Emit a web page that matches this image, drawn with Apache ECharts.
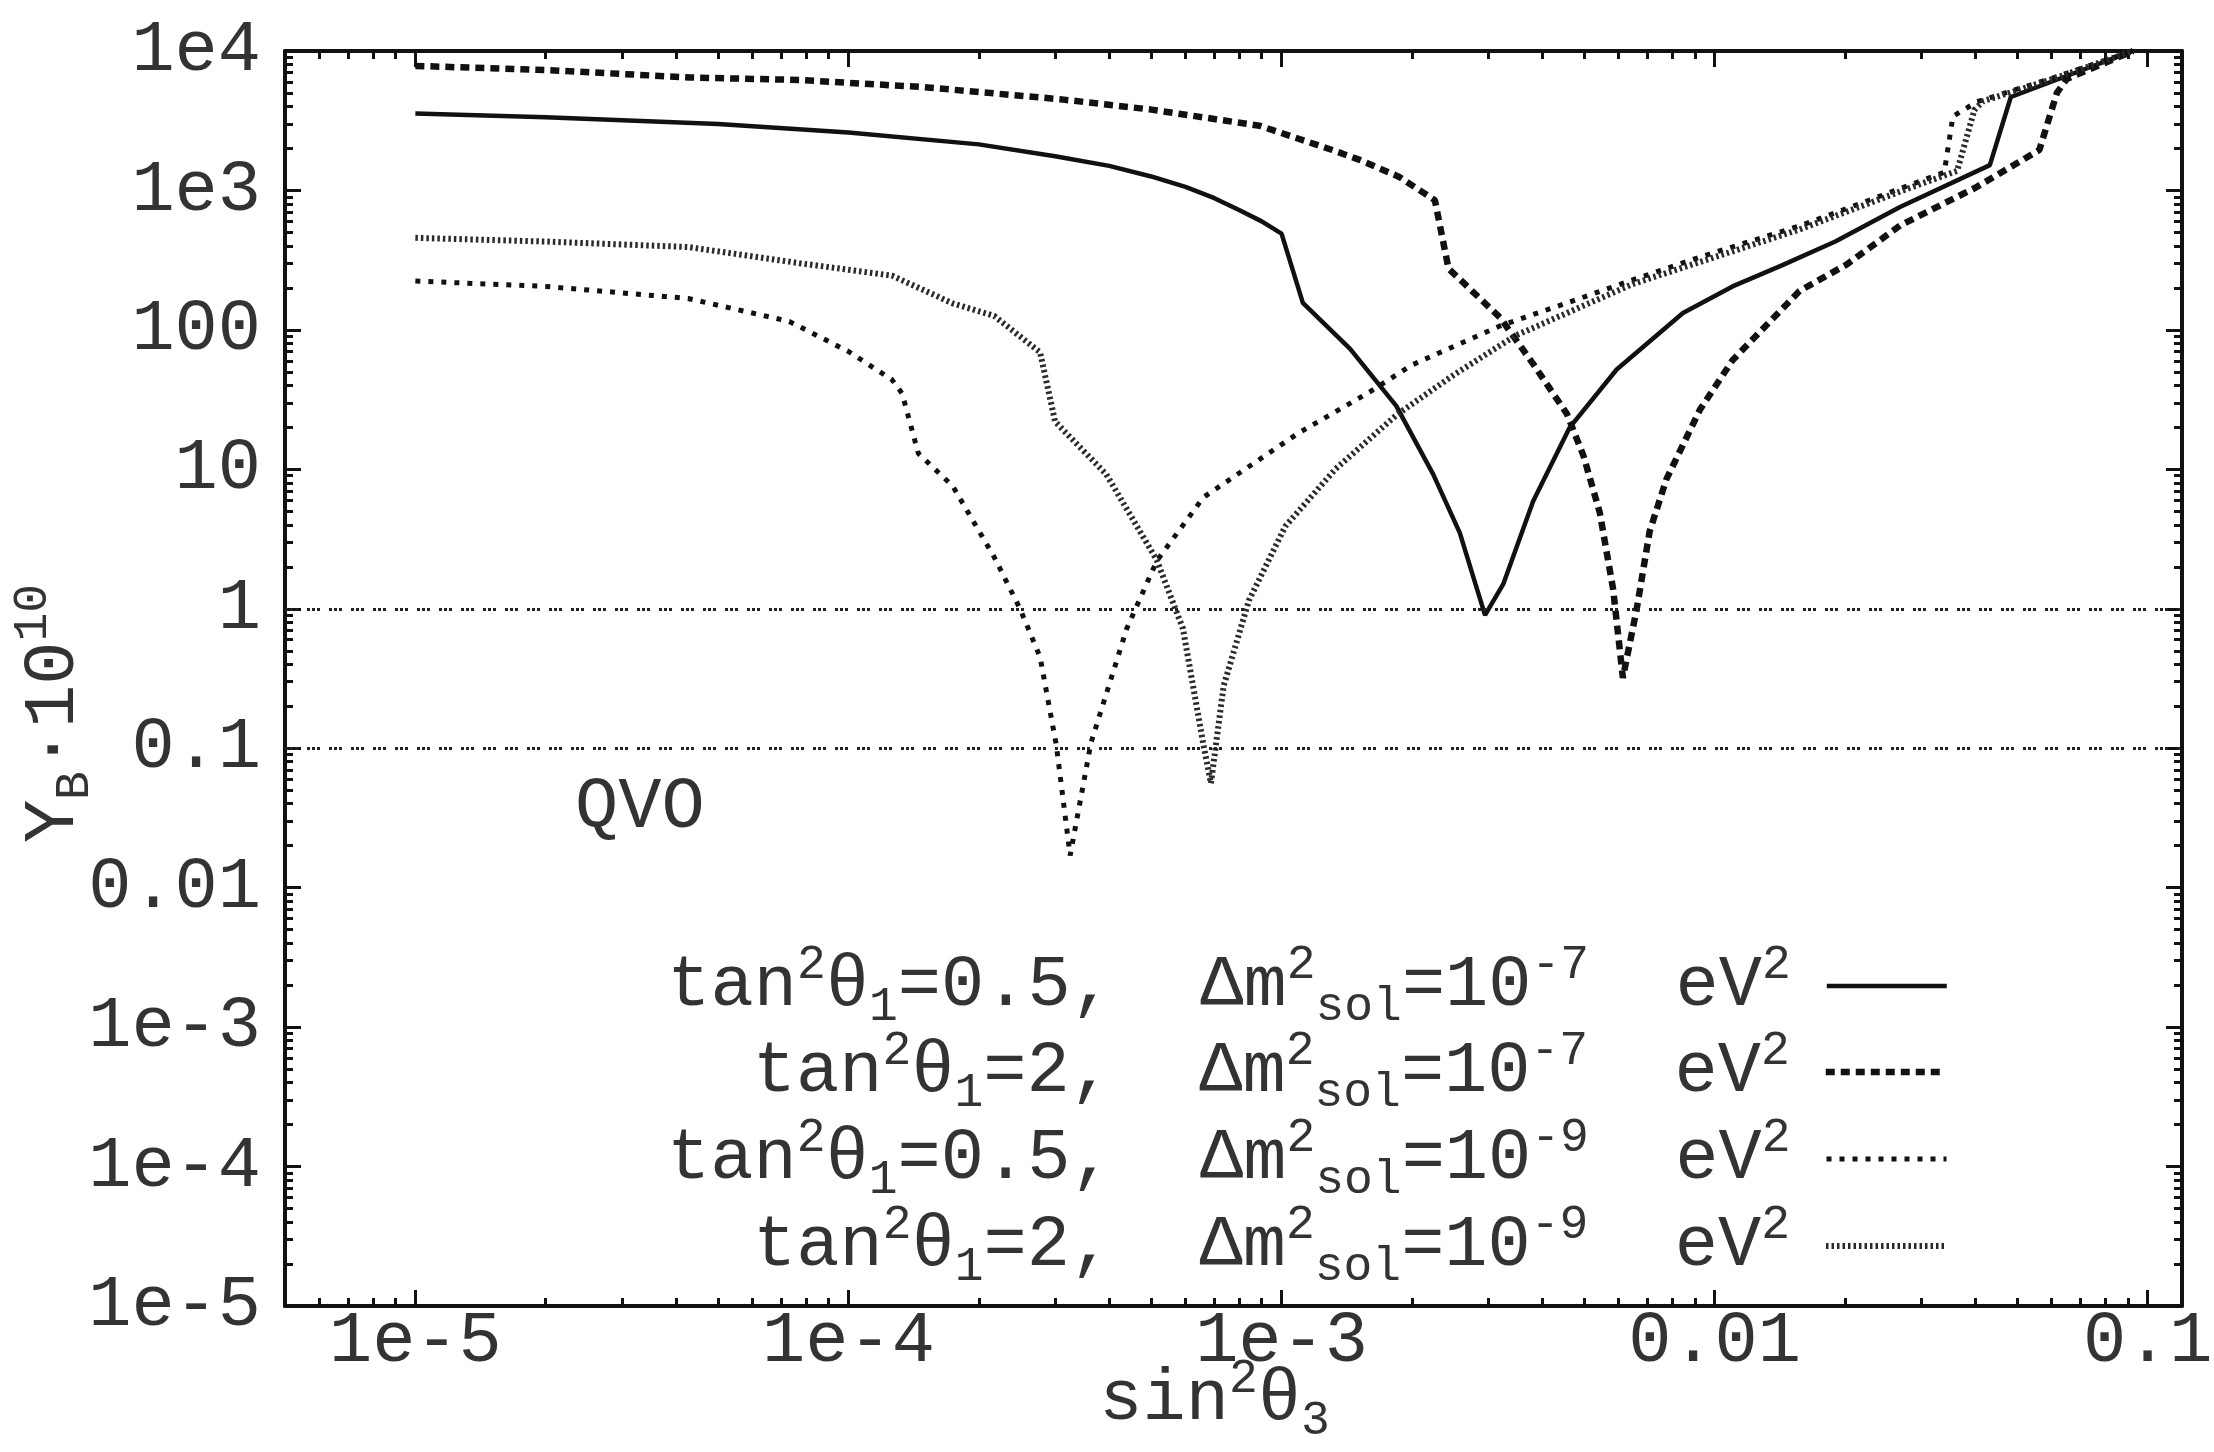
<!DOCTYPE html>
<html>
<head>
<meta charset="utf-8">
<title>Y_B vs sin²θ₃</title>
<script src="https://cdn.jsdelivr.net/npm/echarts@6.0.0/dist/echarts.min.js"></script>
<style>
  html, body { margin: 0; padding: 0; background: #fff; }
  #chart { width: 2214px; height: 1452px; }
</style>
</head>
<body>
<div id="chart"></div>
<script>
// axis ranges and tick labels
const xMin = 5e-6, xMax = 0.12;
const yMin = 1e-5, yMax = 1e4;
const xTicks = [1e-5, 1e-4, 1e-3, 0.01, 0.1];
const xTickLabels = ['1e-5', '1e-4', '1e-3', '0.01', '0.1'];
const yTicks = [1e-5, 1e-4, 1e-3, 0.01, 0.1, 1, 10, 100, 1e3, 1e4];
const yTickLabels = ['1e-5', '1e-4', '1e-3', '0.01', '0.1', '1', '10', '100', '1e3', '1e4'];
const minorSteps = [2, 3, 4, 5, 6, 7, 8, 9];

// horizontal reference levels
const refLevels = [1, 0.1];
const qvoPos = [3.3e-5, 0.037];

// tan^2=0.5, dm^2=1e-7 (solid)
const solidX = [1e-5, 2e-5, 5e-5, 1e-4, 2e-4, 3e-4, 4e-4, 5e-4, 6e-4, 7e-4, 8e-4, 9e-4, 1.0e-3, 1.12e-3,
  1.44e-3, 1.84e-3, 2.24e-3, 2.58e-3, 2.95e-3, 3.25e-3, 3.81e-3, 4.63e-3, 5.94e-3, 8.45e-3,
  0.011, 0.0143, 0.019, 0.0268, 0.0432, 0.0483, 0.0925];
const solidY = [3560, 3350, 3000, 2600, 2140, 1760, 1500, 1260, 1060, 880, 720, 600, 490, 156,
  73, 28.5, 9.2, 3.5, 0.9, 1.5, 5.9, 20, 52, 132,
  205, 290, 430, 760, 1520, 4680, 10000];

// tan^2=2, dm^2=1e-7 (dashed)
const dashX = [1e-5, 2e-5, 4.3e-5, 7.7e-5, 1.5e-4, 3.1e-4, 5e-4, 8.9e-4, 1.31e-3, 1.52e-3, 1.87e-3, 2.26e-3,
  2.43e-3, 3.2e-3, 3.81e-3, 4.56e-3, 4.98e-3, 5.43e-3, 5.83e-3, 6.14e-3, 6.61e-3, 7.08e-3, 7.74e-3,
  9.25e-3, 0.011, 0.0157, 0.0202, 0.0268, 0.0401, 0.0562, 0.0617, 0.065, 0.0925];
const dashY = [7820, 7300, 6460, 6200, 5500, 4500, 3800, 2910, 1950, 1650, 1250, 850,
  275, 122, 57, 25, 12.5, 4.9, 1.38, 0.32, 1.0, 3.6, 8.5,
  26.8, 60.6, 190, 295, 560, 1050, 1950, 5000, 6300, 10000];

// tan^2=0.5, dm^2=1e-9 (dotted)
const dotX = [1e-5, 2e-5, 4.26e-5, 7.3e-5, 1.0e-4, 1.26e-4, 1.33e-4, 1.45e-4, 1.74e-4, 2.17e-4, 2.49e-4,
  2.77e-4, 3.02e-4, 3.25e-4, 3.63e-4, 4.39e-4, 5.15e-4, 6.6e-4, 1.1e-3, 1.57e-3, 2.0e-3, 3.2e-3,
  4.56e-3, 6.49e-3, 9.25e-3, 0.0157, 0.0284, 0.0339, 0.0355, 0.0404, 0.0603, 0.0925];
const dotY = [224, 205, 168, 115, 70, 44, 35, 13, 7.6, 2.35, 1.0,
  0.45, 0.105, 0.017, 0.109, 0.72, 2.2, 6.3, 18.4, 34.7, 56, 107,
  156, 229, 333, 556, 1100, 1350, 3400, 4330, 6400, 10000];

// tan^2=2, dm^2=1e-9 (fine dotted)
const fineX = [1e-5, 2e-5, 4.26e-5, 7.7e-5, 1.26e-4, 1.74e-4, 2.17e-4, 2.77e-4, 3.0e-4, 3.94e-4, 5.15e-4,
  5.92e-4, 6.59e-4, 6.87e-4, 7.35e-4, 8.41e-4, 1.02e-3, 1.33e-3, 1.85e-3, 2.51e-3, 3.47e-3, 6.49e-3,
  0.0102, 0.0157, 0.0284, 0.0363, 0.0398, 0.0417, 0.0603, 0.0925];
const fineY = [457, 430, 393, 301, 245, 155, 126, 69, 22, 9.2, 2.24,
  0.72, 0.109, 0.056, 0.28, 1.15, 3.9, 10, 24.8, 48, 91, 214,
  339, 525, 1050, 1380, 3780, 4370, 6300, 10000];

// legend texts
const seriesNames = ['s1', 's2', 's3', 's4'];
const legendTan = ['0.5', '2', '0.5', '2'];
const legendDm = ['-7', '-7', '-9', '-9'];

const FONT = 'Liberation Mono';
const INK = '#333';

const rich = {
  n: { fontFamily: FONT, fontSize: 72, lineHeight: 72, color: INK },
  sup: { fontFamily: FONT, fontSize: 48, height: 30, verticalAlign: 'top', color: INK },
  sub: { fontFamily: FONT, fontSize: 48, height: 30, verticalAlign: 'bottom', color: INK }
};

function minorValues(lo, hi) {
  const out = [];
  for (let e = Math.floor(Math.log10(lo)); e <= Math.ceil(Math.log10(hi)); e++) {
    minorSteps.forEach(m => {
      const v = m * Math.pow(10, e);
      if (v > lo && v < hi) out.push(v);
    });
  }
  return out;
}

function labelFor(ticks, labels) {
  return v => {
    const i = ticks.findIndex(t => Math.abs(Math.log10(t) - Math.log10(v)) < 1e-6);
    return i >= 0 ? labels[i] : '';
  };
}

const frame = { show: true, lineStyle: { color: '#111', width: 4 } };
const tickLine = { color: '#111', width: 3 };

function xAxisPair(pos, withLabels) {
  const major = {
    type: 'log', position: pos, min: xMin, max: xMax,
    axisLine: frame, splitLine: { show: false },
    axisTick: { show: true, inside: true, length: 16, lineStyle: tickLine, customValues: xTicks },
    axisLabel: withLabels ? {
      show: true, customValues: xTicks, formatter: labelFor(xTicks, xTickLabels),
      fontFamily: FONT, fontSize: 72, color: INK, margin: 0
    } : { show: false }
  };
  if (withLabels) {
    major.name = '{n|sin}{sup|2}{n|θ}{sub|3}';
    major.nameLocation = 'middle';
    major.nameGap = 58;
    major.nameMoveOverlap = false;
    major.nameTextStyle = { rich: rich, padding: [0, 38, 0, 0] };
  }
  const minor = {
    type: 'log', position: pos, min: xMin, max: xMax,
    axisLine: { show: false }, splitLine: { show: false },
    axisTick: { show: true, inside: true, length: 8, lineStyle: tickLine, customValues: minorValues(xMin, xMax) },
    axisLabel: { show: false }
  };
  return [major, minor];
}

function yAxisPair(pos, withLabels) {
  const major = {
    type: 'log', position: pos, min: yMin, max: yMax,
    axisLine: frame, splitLine: { show: false },
    axisTick: { show: true, inside: true, length: 16, lineStyle: tickLine, customValues: yTicks },
    axisLabel: withLabels ? {
      show: true, customValues: yTicks, formatter: labelFor(yTicks, yTickLabels),
      fontFamily: FONT, fontSize: 72, color: INK, margin: 24, padding: [0, 0, 10, 0]
    } : { show: false }
  };
  if (withLabels) {
    major.name = '{n|Y}{sub|B}{n|·10}{sup|10}';
    major.nameLocation = 'middle';
    major.nameGap = 195;
    major.nameMoveOverlap = false;
    major.nameTextStyle = { rich: rich, padding: [0, 70, 0, 0] };
  }
  const minor = {
    type: 'log', position: pos, min: yMin, max: yMax,
    axisLine: { show: false }, splitLine: { show: false },
    axisTick: { show: true, inside: true, length: 8, lineStyle: tickLine, customValues: minorValues(yMin, yMax) },
    axisLabel: { show: false }
  };
  return [major, minor];
}

const styles = [
  { color: '#111', width: 4.5, type: 'solid' },
  { color: '#111', width: 6.5, type: [9, 6] },
  { color: '#111', width: 5, type: [5, 8] },
  { color: '#2a2a2a', width: 6, type: [2.5, 3] }
];

function curve(i, xs, ys) {
  return {
    name: seriesNames[i], type: 'line', symbol: 'none', showSymbol: false,
    xAxisIndex: 0, yAxisIndex: 0, clip: true,
    data: xs.map((x, k) => [x, ys[k]]),
    itemStyle: { color: '#111' },
    lineStyle: styles[i]
  };
}

const series = [
  curve(0, solidX, solidY),
  curve(1, dashX, dashY),
  curve(2, dotX, dotY),
  curve(3, fineX, fineY)
];

series[0].markLine = {
  silent: true, symbol: 'none', label: { show: false },
  lineStyle: { color: '#222', width: 3, type: [3, 2, 3, 2, 3, 9] },
  data: refLevels.map(v => ({ yAxis: v }))
};
series[0].markPoint = {
  silent: true, symbol: 'rect', symbolSize: 1, itemStyle: { color: 'rgba(0,0,0,0)' },
  label: { show: true, position: 'inside', formatter: 'QVO', fontFamily: FONT, fontSize: 72, color: INK },
  data: [{ coord: qvoPos }]
};

const legendCenters = [977, 1063, 1150, 1237];
const legends = seriesNames.map((nm, i) => ({
  data: [nm],
  right: 265, top: legendCenters[i] - 36,
  orient: 'horizontal', align: 'right', padding: 0,
  itemWidth: 120, itemHeight: 14, selectedMode: false,
  itemStyle: { opacity: 0 },
  lineStyle: { width: styles[i].width },
  formatter: () => '{n|tan}{sup|2}{n|θ}{sub|1}{n|=' + legendTan[i] + ',  Δm}{sup|2}{sub|sol}{n|=10}{sup|' +
    legendDm[i] + '}{n|  eV}{sup|2}',
  textStyle: { rich: rich, padding: [0, 31, 0, 0] }
}));

const chart = echarts.init(document.getElementById('chart'), null, { renderer: 'canvas' });
chart.setOption({
  animation: false,
  backgroundColor: '#ffffff',
  grid: { left: 285, right: 32, top: 51, bottom: 146, containLabel: false, outerBoundsMode: 'none' },
  xAxis: [].concat(xAxisPair('bottom', true), xAxisPair('top', false)),
  yAxis: [].concat(yAxisPair('left', true), yAxisPair('right', false)),
  legend: legends,
  series: series
});
</script>
</body>
</html>
